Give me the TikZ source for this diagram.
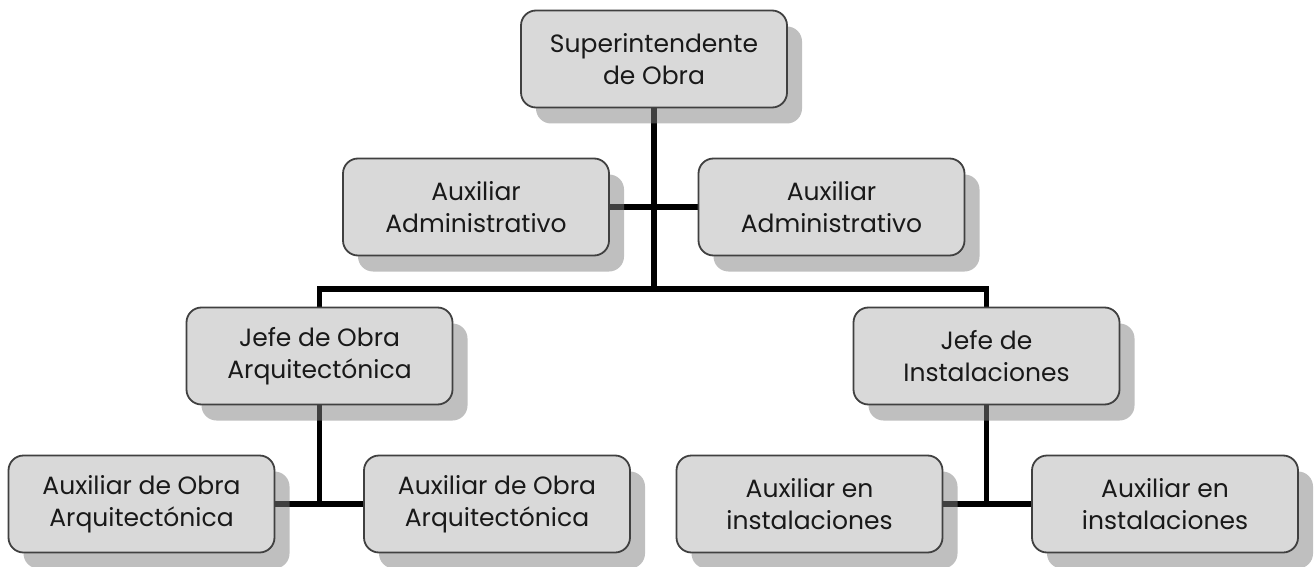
\documentclass[tikz,border=0pt]{standalone}
\usepackage{fontspec}
\setmainfont{Poppins}
\usetikzlibrary{shadows,backgrounds}
\definecolor{boxfill}{HTML}{D9D9D9}
\definecolor{boxdraw}{HTML}{404040}
\tikzset{
  orgbox/.style={draw=boxdraw, line width=1.8pt, fill=boxfill, rounded corners=15pt,
    minimum width=266pt, minimum height=97pt, inner sep=0pt, align=center,
    font=\fontsize{25}{32}\selectfont, text=black!90,
    general shadow={fill=black!50, fill opacity=0.5, draw=none, shadow xshift=15pt, shadow yshift=-16pt}},
  link/.style={line width=5.5pt, draw=black, line join=miter}
}
\begin{document}
\begin{tikzpicture}[x=1pt,y=-1pt]
\useasboundingbox (0,0) rectangle (1314,567);
\node[orgbox] (top) at (654,59) {Superintendente\\de Obra};
\node[orgbox] (al) at (476,207) {Auxiliar\\Administrativo};
\node[orgbox] (ar) at (831.5,207) {Auxiliar\\Administrativo};
\node[orgbox] (jo) at (319.5,356) {Jefe de Obra\\Arquitectónica};
\node[orgbox] (ji) at (986.5,356) {Jefe de\\Instalaciones};
\node[orgbox] (b1) at (141.5,504) {Auxiliar de Obra\\Arquitectónica};
\node[orgbox] (b2) at (497,504) {Auxiliar de Obra\\Arquitectónica};
\node[orgbox] (b3) at (809.5,504) {Auxiliar en\\instalaciones};
\node[orgbox] (b4) at (1165,504) {Auxiliar en\\instalaciones};
\coordinate (bar) at (654,289);
\begin{scope}[on background layer]
\fill[white] (0,0) rectangle (1314,567);
\draw[link] (top.south) -- (bar);
\draw[link] (al.east) -- (ar.west);
\draw[link] (jo.north) -- (jo.north |- bar) -- (ji.north |- bar) -- (ji.north);
\draw[link] (jo.south) -- (jo.south |- b1.east);
\draw[link] (b1.east) -- (b2.west);
\draw[link] (ji.south) -- (ji.south |- b3.east);
\draw[link] (b3.east) -- (b4.west);
\end{scope}
\end{tikzpicture}
\end{document}
